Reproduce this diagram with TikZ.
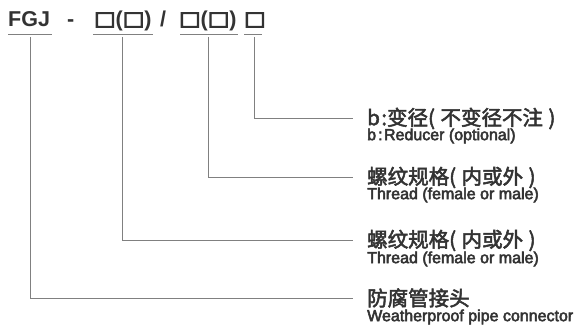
\documentclass[tikz,border=0pt]{standalone}
\usepackage{fontspec}
\usepackage{graphicx}
\setmainfont{Liberation Sans}
\newfontfamily\cjk{Noto Sans CJK SC}[FakeBold=2.5]
\newfontfamily\cjksq{Noto Sans CJK SC}[FakeBold=6]
\newfontfamily\subfont{Liberation Sans}[FakeBold=3.2]
\newcommand{\sqbox}{{\cjksq\scalebox{1}[0.85]{□}}}
\newcommand{\gp}{\hspace{5.5pt}}
\begin{document}
\begin{tikzpicture}[x=1pt,y=-1pt,
  txt/.style={inner sep=0pt, text=black!80},
  toptext/.style={txt, anchor=base west, font=\fontsize{21.5}{24}\selectfont\bfseries},
  mainlbl/.style={txt, anchor=west, font=\cjk\fontsize{20.5}{24}\selectfont},
  sublbl/.style={txt, anchor=west, font=\subfont\fontsize{16}{18}\selectfont},
  ln/.style={draw=black!50, line width=0.9pt}]
\useasboundingbox (0,0) rectangle (576,334);
\fill[white] (0,0) rectangle (576,334);
% top code
\node[toptext] (fgj) at (8,27) {FGJ};
\node[toptext] (dash) at (67,27) {-};
\node[toptext] (g1) at (94,27) {\sqbox(\sqbox)};
\node[toptext] (sl) at (160,27) {/};
\node[toptext] (g2) at (179,27) {\sqbox(\sqbox)};
\node[toptext] (g3) at (244,27) {\sqbox};
% underlines
\draw[ln] (8,34) -- (52,34);
\draw[ln] (93,34) -- (153,34);
\draw[ln] (180,34) -- (238,34);
\draw[ln] (244,34) -- (262,34);
% connector starts
\coordinate (c1) at (30,37);
\coordinate (c2) at (122,37);
\coordinate (c3) at (208,37);
\coordinate (c4) at (254,37);
% labels
\node[mainlbl] (m1) at (367,118.5) {b\hspace{1.5pt}:变径(\gp 不变径不注\gp)};
\node[sublbl] (s1) at (367,136) {b\hspace{2pt}:\hspace{1.5pt}Reducer (optional)};
\node[mainlbl] (m2) at (367,177.5) {螺纹规格(\gp 内或外\gp)};
\node[sublbl] (s2) at (367,195) {Thread (female or male)};
\node[mainlbl] (m3) at (367,240.5) {螺纹规格(\gp 内或外\gp)};
\node[sublbl] (s3) at (367,259) {Thread (female or male)};
\node[mainlbl] (m4) at (367,298) {防腐管接头};
\node[sublbl] (s4) at (367,317) {Weatherproof pipe connector};
% connectors
\draw[ln] (c4) |- ([xshift=-14pt]m1.west);
\draw[ln] (c3) |- ([xshift=-14pt]m2.west);
\draw[ln] (c2) |- ([xshift=-14pt]m3.west);
\draw[ln] (c1) |- ([xshift=-14pt]m4.west);
\end{tikzpicture}
\end{document}
